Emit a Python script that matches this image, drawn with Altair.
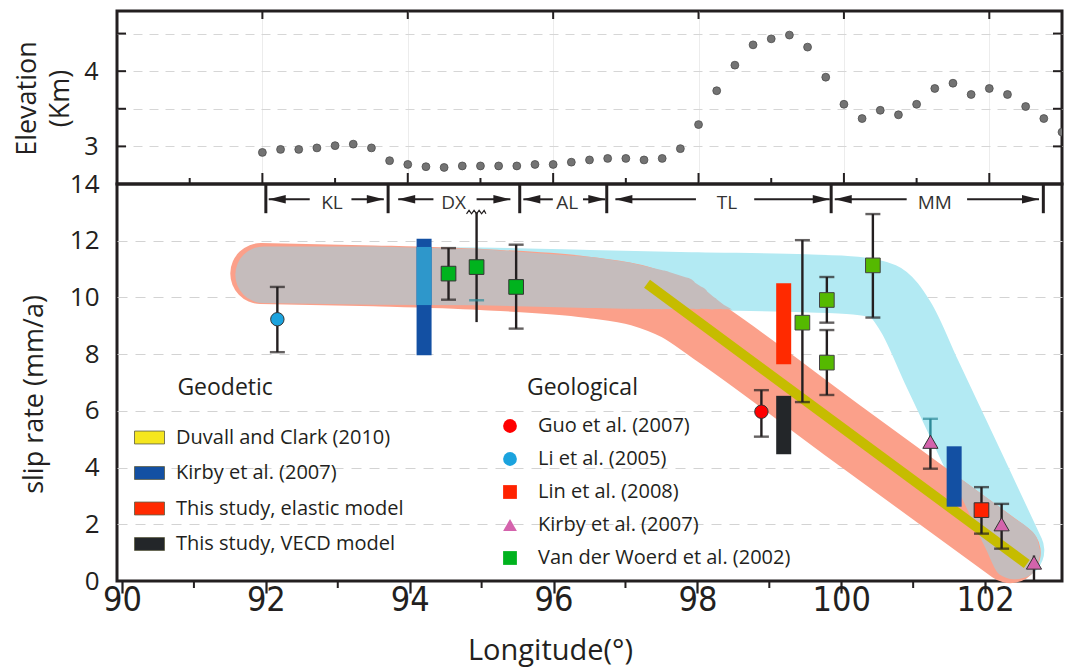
import altair as alt
import pandas as pd

# ---------------- data ----------------
# top panel: elevation profile
elev_lon = [92.0, 92.25, 92.5, 92.75, 93.0, 93.25, 93.5, 93.75, 94.0, 94.25, 94.5, 94.75,
            95.0, 95.25, 95.5, 95.75, 96.0, 96.25, 96.5, 96.75, 97.0, 97.25, 97.5, 97.75,
            98.0, 98.25, 98.5, 98.75, 99.0, 99.25, 99.5, 99.75, 100.0, 100.25, 100.5, 100.75,
            101.0, 101.25, 101.5, 101.75, 102.0, 102.25, 102.5, 102.75, 103.0]
elev_km = [2.92, 2.96, 2.96, 2.98, 3.01, 3.03, 2.98, 2.81, 2.76, 2.73, 2.72, 2.74,
           2.74, 2.74, 2.74, 2.76, 2.76, 2.79, 2.82, 2.84, 2.84, 2.82, 2.84, 2.97,
           3.29, 3.74, 4.08, 4.35, 4.43, 4.48, 4.32, 3.92, 3.56, 3.37, 3.48, 3.42,
           3.56, 3.77, 3.84, 3.69, 3.77, 3.69, 3.53, 3.37, 3.19]

# model bands (centre lines)
red_lon = [91.93, 93.5, 95.0, 96.5, 97.2, 97.7, 98.2, 100.0, 102.35]
red_v = [10.84, 10.76, 10.63, 10.35, 10.05, 9.55, 8.7, 5.35, 1.0]
cyan_lon = [91.97, 93.5, 95.0, 96.5, 98.0, 99.5, 100.2, 100.6, 100.9, 101.25, 101.9, 102.42]
cyan_v = [10.8, 10.76, 10.74, 10.65, 10.57, 10.5, 10.42, 10.2, 9.3, 7.4, 3.9, 1.08]
# overlap of the two bands (grey)
ov_lon = [91.97, 93.5, 95.0, 96.5, 97.0, 97.5, 97.8, 98.0, 98.2, 98.35, 98.47]
ov_v = [10.8, 10.77, 10.71, 10.53, 10.42, 10.27, 10.15, 9.99, 9.8, 9.67, 9.58]
ov_thick = [2.0, 2.06, 1.98, 1.8, 1.65, 1.37, 1.13, 0.82, 0.45, 0.17, 0.02]
ov2_lon = [101.5, 101.8, 102.0, 102.2, 102.4, 102.6, 102.72, 102.77]
ov2_lo = [3.89, 2.27, 1.19, 0.23, 0.06, 0.17, 0.5, 1.0]
ov2_hi = [3.89, 3.35, 2.98, 2.61, 2.22, 1.86, 1.5, 1.0]

# geodetic
duvall_lon = [97.3, 102.58]
duvall_v = [10.48, 0.6]
geod_names = ["Duvall and Clark (2010)", "Kirby et al. (2007)",
              "This study, elastic model", "This study,  VECD model"]
geod_colors = ["#F5E61E", "#1350A3", "#FF2A00", "#232629"]
bar_src = ["Kirby et al. (2007)", "Kirby et al. (2007)",
           "This study, elastic model", "This study,  VECD model"]
bar_lon = [94.2, 101.57, 99.2, 99.2]
bar_lo = [7.96, 2.62, 7.64, 4.47]
bar_hi = [12.07, 4.75, 10.5, 6.53]
bar_light_lon = [94.2]
bar_light_lo = [9.73]
bar_light_hi = [11.78]

# geological
geol_names = ["Guo et al. (2007)", "Li et al. (2005)", "Lin et al. (2008)",
              "Kirby et al. (2007)", "Van der Woerd et al. (2002)"]
geol_colors = ["#FF0000", "#1BA3DE", "#FF2200", "#D463AC", "#00B31E"]
geol_shapes = ["circle", "circle", "square", "triangle-up", "square"]
mk_src = ["Li et al. (2005)", "Van der Woerd et al. (2002)", "Van der Woerd et al. (2002)",
          "Van der Woerd et al. (2002)", "Guo et al. (2007)", "Kirby et al. (2007)",
          "Kirby et al. (2007)", "Kirby et al. (2007)", "Lin et al. (2008)"]
mk_lon = [92.16, 94.54, 94.93, 95.48, 98.89, 101.24, 102.23, 102.68, 101.95]
mk_v = [9.23, 10.84, 11.07, 10.37, 5.97, 4.91, 2.0, 0.65, 2.5]
mk_size = [180, 215, 215, 215, 180, 230, 230, 230, 215]
late_green_lon = [99.46, 99.8, 99.8, 100.44]
late_green_v = [9.11, 9.91, 7.7, 11.13]

err_lon = [92.16, 94.54, 94.93, 95.48, 98.89, 99.46, 99.8, 99.8, 100.44, 101.95, 101.24, 102.23, 102.68]
err_lo = [8.07, 9.92, 9.13, 8.9, 5.09, 6.31, 9.11, 6.56, 9.29, 1.67, 3.96, 1.14, 0.0]
err_hi = [10.37, 11.74, 13.0, 11.86, 6.73, 12.02, 10.72, 8.85, 12.94, 3.31, 4.91, 2.72, 0.9]
teal_err_lon = [101.24]
teal_err_lo = [4.91]
teal_err_hi = [5.72]
cap_lon = [92.16, 92.16, 94.54, 94.54, 95.48, 95.48, 98.89, 98.89, 99.46, 99.46, 99.8, 99.8,
           99.8, 99.8, 100.44, 100.44, 101.95, 101.95, 101.24, 102.23, 102.23]
cap_v = [8.07, 10.37, 9.92, 11.74, 8.9, 11.86, 5.09, 6.73, 6.31, 12.02, 9.11, 10.72,
         6.56, 8.85, 9.29, 12.94, 1.67, 3.31, 3.96, 1.14, 2.72]
teal_cap_lon = [94.93, 101.24]
teal_cap_v = [9.9, 5.72]
zig_lon = [94.79, 94.825, 94.86, 94.895, 94.93, 94.965, 95.0, 95.035, 95.06]
zig_v = [12.95, 13.07, 12.95, 13.07, 12.95, 13.07, 12.95, 13.07, 12.95]

# fault segments
seg_names = ["KL", "DX", "AL", "TL", "MM"]
seg_bound = [92.0, 93.7, 95.53, 96.74, 99.86, 102.81]
seg_label_lon = [92.92, 94.61, 96.19, 98.41, 101.3]
arrL_tip = [92.04, 93.84, 95.58, 96.86, 99.91]
arrL_end = [92.61, 94.33, 95.99, 97.98, 100.91]
arrR_start = [93.19, 94.93, 96.41, 98.79, 101.75]
arrR_tip = [93.64, 95.4, 96.72, 99.84, 102.75]
seg_arrow_v = 13.46
seg_label_v = 13.33
seg_bar_lo = 12.97
seg_bar_hi = 14.0

heading_text = ["Geodetic", "Geological"]
heading_lon = [90.77, 95.63]
heading_v = [6.8, 6.8]

x_even = [90, 92, 94, 96, 98, 100, 102]
x_odd = [91, 93, 95, 97, 99, 101]
top_even_inner = [92, 94, 96, 98, 100, 102]
top_y_ticks = [3, 3.5, 4, 4.5]
bot_y_ticks = [0, 2, 4, 6, 8, 10, 12, 14]

# ---------------- styling ----------------
W, HT, HB = 945, 173, 397
INK = "#231F20"
FONT = "Open Sans"
NARROW = "Liberation Sans Narrow, DejaVu Sans Condensed, sans-serif"
PX_PER_UNIT = HB / 14.0

xs = alt.Scale(domain=[90, 103], nice=False, zero=False)
ys_top = alt.Scale(domain=[2.5, 4.8], nice=False, zero=False)
ys_bot = alt.Scale(domain=[0, 14], nice=False, zero=False)

# ---------------- top panel ----------------
top_xaxis = alt.Axis(title=None, labels=False, ticks=False, domain=False, grid=True,
                     values=top_even_inner, gridColor="#ECECEC", gridWidth=1)
top_yaxis = alt.Axis(title=["Elevation", "(Km)"], values=top_y_ticks,
                     labelExpr="datum.value % 1 == 0 ? format(datum.value, 'd') : ''",
                     ticks=False, domain=False, grid=True, gridDash=[9, 7],
                     gridColor="#D6D6D6", labelFont=FONT, labelFontSize=25,
                     labelPadding=19, titleFont=FONT, titleFontSize=27,
                     titleFontWeight="normal", titleAngle=270, titleX=-82,
                     titleY=87, titleAlign="center", titleBaseline="alphabetic",
                     titleLineHeight=33)

top_df = pd.DataFrame({"lon": elev_lon, "elev": elev_km})
top_pts = alt.Chart(top_df).mark_point(filled=True, size=62, fill="#737373",
                                       stroke="#4D4D4D", strokeWidth=0.8, opacity=1,
                                       clip=True).encode(
    x=alt.X("lon:Q", scale=xs, axis=top_xaxis),
    y=alt.Y("elev:Q", scale=ys_top, axis=top_yaxis))

even_df = pd.DataFrame({"lon": top_even_inner})
odd_df = pd.DataFrame({"lon": x_odd})
ty_df = pd.DataFrame({"v": top_y_ticks})
rule_kw = dict(color=INK, strokeWidth=2)
t_even_bot = alt.Chart(even_df).mark_rule(**rule_kw).encode(
    x=alt.X("lon:Q", scale=xs), y=alt.value(HT), y2=alt.value(HT - 11))
t_odd_bot = alt.Chart(odd_df).mark_rule(**rule_kw).encode(
    x=alt.X("lon:Q", scale=xs), y=alt.value(HT), y2=alt.value(HT - 6))
t_even_top = alt.Chart(even_df).mark_rule(**rule_kw).encode(
    x=alt.X("lon:Q", scale=xs), y=alt.value(0), y2=alt.value(8))
t_left = alt.Chart(ty_df).mark_rule(**rule_kw).encode(
    y=alt.Y("v:Q", scale=ys_top), x=alt.value(0), x2=alt.value(9))
t_right = alt.Chart(ty_df).mark_rule(**rule_kw).encode(
    y=alt.Y("v:Q", scale=ys_top), x=alt.value(W), x2=alt.value(W - 9))

top = alt.layer(top_pts, t_even_bot, t_odd_bot, t_even_top, t_left, t_right).properties(
    width=W, height=HT)

# ---------------- bottom panel ----------------
bx_axis = alt.Axis(values=x_even, tickSize=12, tickWidth=2.2, tickColor=INK,
                   domain=False, grid=False, labelFont=NARROW, labelFontSize=34,
                   labelBaseline="middle", labelPadding=7, labelColor=INK,
                   title="Longitude(°)", titleFont=FONT, titleFontSize=29,
                   titleFontWeight="normal", titleX=433, titleY=78,
                   titleAlign="center", titleBaseline="alphabetic")
by_axis = alt.Axis(values=bot_y_ticks, ticks=False, domain=False, grid=True,
                   gridDash=[10, 8], gridColor="#D3D3D3",
                   gridOpacity=alt.condition("datum.value == 0 || datum.value == 14",
                                             alt.value(0), alt.value(1)),
                   labelFont=FONT, labelFontSize=26, labelPadding=18, labelColor=INK,
                   title="slip rate (mm/a)", titleFont=FONT, titleFontSize=27,
                   titleFontWeight="normal", titleAngle=270, titleX=-75,
                   titleY=210, titleAlign="center", titleBaseline="alphabetic")


def BX(f="lon"):
    return alt.X(f + ":Q", scale=xs, axis=bx_axis)


def BY(f="v"):
    return alt.Y(f + ":Q", scale=ys_bot, axis=by_axis)


cyan_band = alt.Chart(pd.DataFrame({"lon": cyan_lon, "v": cyan_v})).mark_line(
    color="#B3EAF3", strokeWidth=58, strokeCap="round", strokeJoin="round",
    interpolate="monotone").encode(x=BX(), y=BY())
red_band = alt.Chart(pd.DataFrame({"lon": red_lon, "v": red_v})).mark_line(
    color="#FBA08A", strokeWidth=61, strokeCap="round", strokeJoin="round",
    interpolate="monotone").encode(x=BX(), y=BY())
ov_df = pd.DataFrame({"lon": ov_lon, "v": ov_v,
                      "w": [t * PX_PER_UNIT for t in ov_thick]})
grey1 = alt.Chart(ov_df).mark_trail(color="#C5BCBC").encode(
    x=BX(), y=BY(), size=alt.Size("w:Q", scale=None))
grey2 = alt.Chart(pd.DataFrame({"lon": ov2_lon, "lo": ov2_lo, "hi": ov2_hi})).mark_area(
    color="#C5BCBC", interpolate="monotone").encode(
    x=BX(), y=BY("lo"), y2="hi:Q")
duvall = alt.Chart(pd.DataFrame({"lon": duvall_lon, "v": duvall_v})).mark_line(
    color="#C6BC00", strokeWidth=10, strokeCap="butt").encode(x=BX(), y=BY())

RECT = "M-1,-0.43H1V0.43H-1Z"
geod_leg = alt.Legend(title=None, orient="none", legendX=17, legendY=238,
                      symbolType=RECT, symbolSize=900, symbolStrokeColor="#5A5A40",
                      symbolStrokeWidth=0.8, labelFont=FONT, labelFontSize=20,
                      labelColor=INK, labelOffset=11, rowPadding=9.5, padding=0,
                      labelLimit=400)
bars = alt.Chart(pd.DataFrame({"src": bar_src, "lon": bar_lon, "lo": bar_lo,
                               "hi": bar_hi})).mark_bar(width=15).encode(
    x=BX(), y=BY("lo"), y2="hi:Q",
    color=alt.Color("src:N", scale=alt.Scale(domain=geod_names, range=geod_colors),
                    legend=geod_leg))
bar_light = alt.Chart(pd.DataFrame({"lon": bar_light_lon, "lo": bar_light_lo,
                                    "hi": bar_light_hi})).mark_bar(
    width=15, color="#2E97CB").encode(x=BX(), y=BY("lo"), y2="hi:Q")

err = alt.Chart(pd.DataFrame({"lon": err_lon, "lo": err_lo, "hi": err_hi})).mark_rule(
    color=INK, strokeWidth=2.4).encode(x=BX(), y=BY("lo"), y2="hi:Q")
teal_err = alt.Chart(pd.DataFrame({"lon": teal_err_lon, "lo": teal_err_lo,
                                   "hi": teal_err_hi})).mark_rule(
    color="#2E8A98", strokeWidth=2.4).encode(x=BX(), y=BY("lo"), y2="hi:Q")
caps = alt.Chart(pd.DataFrame({"lon": cap_lon, "v": cap_v})).mark_tick(
    orient="horizontal", size=15, thickness=2.4, color=INK).encode(x=BX(), y=BY())
teal_caps = alt.Chart(pd.DataFrame({"lon": teal_cap_lon, "v": teal_cap_v})).mark_tick(
    orient="horizontal", size=15, thickness=2.4, color="#2E8A98").encode(x=BX(), y=BY())
zig = alt.Chart(pd.DataFrame({"lon": zig_lon, "v": zig_v})).mark_line(
    color=INK, strokeWidth=1.2).encode(x=BX(), y=BY())

geol_leg = alt.Legend(title=None, orient="none", legendX=383, legendY=232,
                      symbolSize=190, symbolStrokeColor="#333333", symbolStrokeWidth=1,
                      labelFont=FONT, labelFontSize=20, labelColor=INK,
                      labelOffset=18, rowPadding=13, padding=0, labelLimit=400)
markers = alt.Chart(pd.DataFrame({"src": mk_src, "lon": mk_lon, "v": mk_v,
                                  "sz": mk_size})).mark_point(
    filled=True, opacity=1, stroke="#333333", strokeWidth=1).encode(
    x=BX(), y=BY(),
    fill=alt.Fill("src:N", scale=alt.Scale(domain=geol_names, range=geol_colors),
                  legend=geol_leg),
    shape=alt.Shape("src:N", scale=alt.Scale(domain=geol_names, range=geol_shapes),
                    legend=geol_leg),
    size=alt.Size("sz:Q", scale=None))
late_green = alt.Chart(pd.DataFrame({"lon": late_green_lon, "v": late_green_v})).mark_point(
    filled=True, opacity=1, shape="square", size=215, fill="#55B900",
    stroke="#444444", strokeWidth=1).encode(x=BX(), y=BY())

bound_df = pd.DataFrame({"lon": seg_bound, "lo": [seg_bar_lo] * len(seg_bound),
                         "hi": [seg_bar_hi] * len(seg_bound)})
seg_bars = alt.Chart(bound_df).mark_rule(color=INK, strokeWidth=3).encode(
    x=BX(), y=BY("lo"), y2="hi:Q")
arr_df = pd.DataFrame({"a": arrL_tip + arrR_start, "b": arrL_end + arrR_tip,
                       "v": [seg_arrow_v] * (2 * len(seg_names))})
arr_lines = alt.Chart(arr_df).mark_rule(color=INK, strokeWidth=2).encode(
    x=BX("a"), x2="b:Q", y=BY())
HEAD_L = "M0,0L2,-0.5L2,0.5Z"
HEAD_R = "M0,0L-2,-0.5L-2,0.5Z"
headsL = alt.Chart(pd.DataFrame({"lon": arrL_tip, "v": [seg_arrow_v] * 5})).mark_point(
    shape=HEAD_L, size=289, filled=True, fill=INK, strokeWidth=0, opacity=1).encode(
    x=BX(), y=BY())
headsR = alt.Chart(pd.DataFrame({"lon": arrR_tip, "v": [seg_arrow_v] * 5})).mark_point(
    shape=HEAD_R, size=289, filled=True, fill=INK, strokeWidth=0, opacity=1).encode(
    x=BX(), y=BY())
seg_text = alt.Chart(pd.DataFrame({"lon": seg_label_lon, "v": [seg_label_v] * 5,
                                   "t": seg_names})).mark_text(
    font=FONT, fontSize=19, color="#333333", align="center", baseline="middle").encode(
    x=BX(), y=BY(), text="t:N")
headings = alt.Chart(pd.DataFrame({"lon": heading_lon, "v": heading_v,
                                   "t": heading_text})).mark_text(
    font=FONT, fontSize=23, color=INK, align="left", baseline="middle").encode(
    x=BX(), y=BY(), text="t:N")
minor = alt.Chart(pd.DataFrame({"lon": x_odd})).mark_rule(color=INK, strokeWidth=2).encode(
    x=BX(), y=alt.value(HB), y2=alt.value(HB + 7))

bottom = alt.layer(cyan_band, red_band, grey1, grey2, duvall, bars, bar_light,
                   err, teal_err, caps, teal_caps, zig, markers, late_green,
                   seg_bars, arr_lines, headsL, headsR, seg_text, headings,
                   minor).properties(width=W, height=HB)

chart = alt.vconcat(top, bottom, spacing=0, bounds="flush").resolve_scale(
    y="independent", color="independent", fill="independent", shape="independent"
).resolve_legend(color="independent", fill="independent", shape="independent"
).properties(padding={"left": 3, "top": 0, "right": 0, "bottom": 0}
).configure_view(stroke=INK, strokeWidth=3).configure_axis(
    labelColor=INK, titleColor=INK)

chart.save("out.html", embed_options={"renderer": "svg", "actions": False})
